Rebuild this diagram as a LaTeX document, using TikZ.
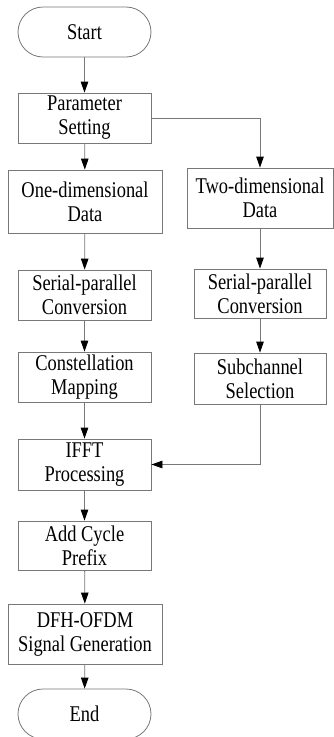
\documentclass[tikz,border=0pt]{standalone}
\usepackage{fontspec}
\usepackage{tikz}
\usetikzlibrary{arrows.meta, positioning}
\newfontfamily\boxfont[FakeStretch=0.82]{Liberation Serif}
\definecolor{mygray}{RGB}{120,120,120}
\definecolor{mydark}{RGB}{0,0,0}
\tikzset{
  block/.style={rectangle, draw=mygray, fill=white, line width=0.8pt,
    align=center, inner sep=0pt, text=mydark,
    font=\boxfont\fontsize{22.5}{24}\selectfont},
  term/.style={block, rounded corners=25pt},
  arrow/.style={draw=mygray, line width=0.8pt,
    -{Triangle[length=11pt, width=7.5pt, color=mydark]}},
}

\begin{document}
\begin{tikzpicture}[x=1pt, y=-1pt]
  \useasboundingbox (0,0) rectangle (334,737);
  % Left column
  \node[term, minimum width=133pt, minimum height=50pt] (start) at (84.5,32) {Start};
  \node[block, minimum width=133pt, minimum height=50pt] (param) at (84.5,118) {Parameter\\Setting};
  \node[block, minimum width=154pt, minimum height=63pt] (onedim) at (85,201.5) {One-dimensional\\Data};
  \node[block, minimum width=133pt, minimum height=50pt] (spleft) at (84.5,295) {Serial-parallel\\Conversion};
  \node[block, minimum width=133pt, minimum height=50pt] (const) at (84.5,377) {Constellation\\Mapping};
  \node[block, minimum width=133pt, minimum height=51pt] (ifft) at (84.5,464.5) {IFFT\\Processing};
  \node[block, minimum width=133pt, minimum height=49pt] (prefix) at (84.5,545.5) {Add Cycle\\Prefix};
  \node[block, minimum width=154pt, minimum height=60pt] (dfh) at (85,634) {DFH-OFDM\\Signal Generation};
  \node[term, minimum width=133pt, minimum height=50pt] (stop) at (84.5,714) {End};
  % Right column
  \node[block, minimum width=146pt, minimum height=60pt] (twodim) at (260,198) {Two-dimensional\\Data};
  \node[block, minimum width=132pt, minimum height=49pt] (spright) at (260,293.5) {Serial-parallel\\Conversion};
  \node[block, minimum width=132pt, minimum height=51pt] (subch) at (260,378.5) {Subchannel\\Selection};
  % Connectors
  \draw[arrow] (start) -- (param);
  \draw[arrow] (param) -- (onedim);
  \draw[arrow] (onedim) -- (spleft);
  \draw[arrow] (spleft) -- (const);
  \draw[arrow] (const) -- (ifft);
  \draw[arrow] (ifft) -- (prefix);
  \draw[arrow] (prefix) -- (dfh);
  \draw[arrow] (dfh) -- (stop);
  \draw[arrow] (param.east) -| (twodim.north);
  \draw[arrow] (twodim) -- (spright);
  \draw[arrow] (spright) -- (subch);
  \draw[arrow] (subch.south) |- (ifft.east);
\end{tikzpicture}
\end{document}
